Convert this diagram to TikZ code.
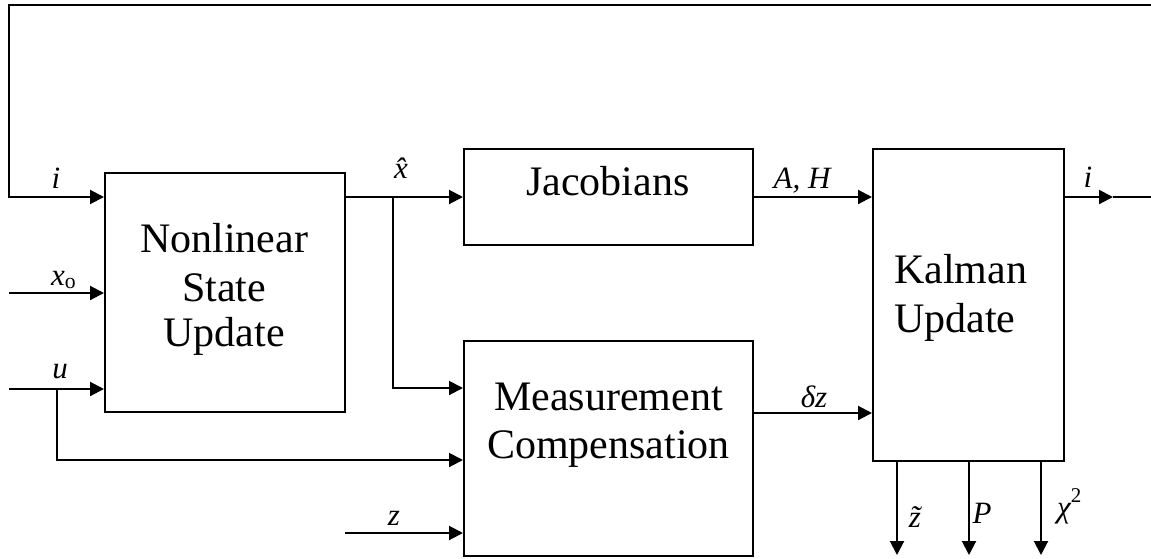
\documentclass[tikz,border=0pt]{standalone}
\usepackage{fontspec}
\setmainfont{Liberation Serif}
\usetikzlibrary{arrows.meta}
\begin{document}
\begin{tikzpicture}[x=1pt,y=-1pt,
  blk/.style={draw, line width=2pt, inner sep=0pt},
  wire/.style={line width=2pt, line join=miter},
  arr/.style={wire, -{Triangle[length=14pt,width=14pt]}},
  boxtxt/.style={font=\fontsize{42}{47}\selectfont, anchor=base, inner sep=0pt},
  lbl/.style={font=\fontsize{31}{34}\selectfont\itshape, anchor=base, inner sep=0pt}]
\useasboundingbox (0,0) rectangle (1151,558);

% blocks
\node[blk, minimum width=240pt, minimum height=239pt] (NL) at (225,292.5) {};
\node[blk, minimum width=289pt, minimum height=96pt] (J) at (608.5,197) {};
\node[blk, minimum width=289pt, minimum height=215pt] (M) at (608.5,448.5) {};
\node[blk, minimum width=191pt, minimum height=312pt] (K) at (968.5,305) {};

% block texts
\node[boxtxt] (t1) at (224,252) {Nonlinear};
\node[boxtxt] (t2) at (224,301.5) {State};
\node[boxtxt] (t3) at (224,346.5) {Update};
\node[boxtxt] (t4) at (608,195) {Jacobians};
\node[boxtxt] (t5) at (608.5,410) {Measurement};
\node[boxtxt] (t6) at (608.5,458) {Compensation};
\node[boxtxt, anchor=base west] (t7) at (894,283) {Kalman};
\node[boxtxt, anchor=base west] (t8) at (894,332) {Update};

% coordinates
\coordinate (fbR) at (1151,5);
\coordinate (fbL) at (9,5);
\coordinate (fbD) at (9,197);
\coordinate (x0s) at (9,293);
\coordinate (us) at (9,389);
\coordinate (ub) at (57,389);
\coordinate (ud) at (57,460);
\coordinate (zs) at (345,533);
\coordinate (xb) at (393,197);
\coordinate (xd) at (393,388);
\coordinate (dzs) at (753,413);
\coordinate (iot) at (1113,197);
\coordinate (ioe) at (1151,197);
\coordinate (o1) at (897,555);
\coordinate (o2) at (969,555);
\coordinate (o3) at (1041,555);

% connectors
\draw[arr] (fbR) -- (fbL) -- (fbD) -- (fbD -| NL.west);
\draw[arr] (x0s) -- (x0s -| NL.west);
\draw[arr] (us) -- (us -| NL.west);
\draw[arr] (ub) -- (ud) -- (ud -| M.west);
\draw[arr] (zs) -- (zs -| M.west);
\draw[arr] (J.west -| NL.east) -- (J.west);
\draw[arr] (xb) -- (xd) -- (xd -| M.west);
\draw[arr] (J.east) -- (J.east -| K.west);
\draw[arr] (dzs) -- (dzs -| K.west);
\draw[arr] (iot -| K.east) -- (iot);
\draw[wire] (iot) -- (ioe);
\draw[arr] (o1 |- K.south) -- (o1);
\draw[arr] (o2 |- K.south) -- (o2);
\draw[arr] (o3 |- K.south) -- (o3);

% labels
\node[lbl] (li) at (56,188) {i};
\node[lbl, anchor=base west] (lx0) at (51,285) {x\textsubscript{\upshape o}};
\node[lbl] (lu) at (60,378) {u};
\node[lbl] (lxh) at (401,178) {\^{x}};
\node[lbl] (lah) at (802,188) {A, H};
\node[lbl] (ldz) at (814,407) {δz};
\node[lbl] (li2) at (1088,187) {i};
\node[lbl] (lz) at (394,525) {z};
\node[lbl] (lzt) at (915,527) {\~{z}};
\node[lbl] (lP) at (982,523) {P};
\node[lbl, anchor=base west] (lchi) at (1057,517) {χ\raisebox{15pt}{\fontsize{21}{22}\selectfont\upshape 2}};
\end{tikzpicture}
\end{document}
